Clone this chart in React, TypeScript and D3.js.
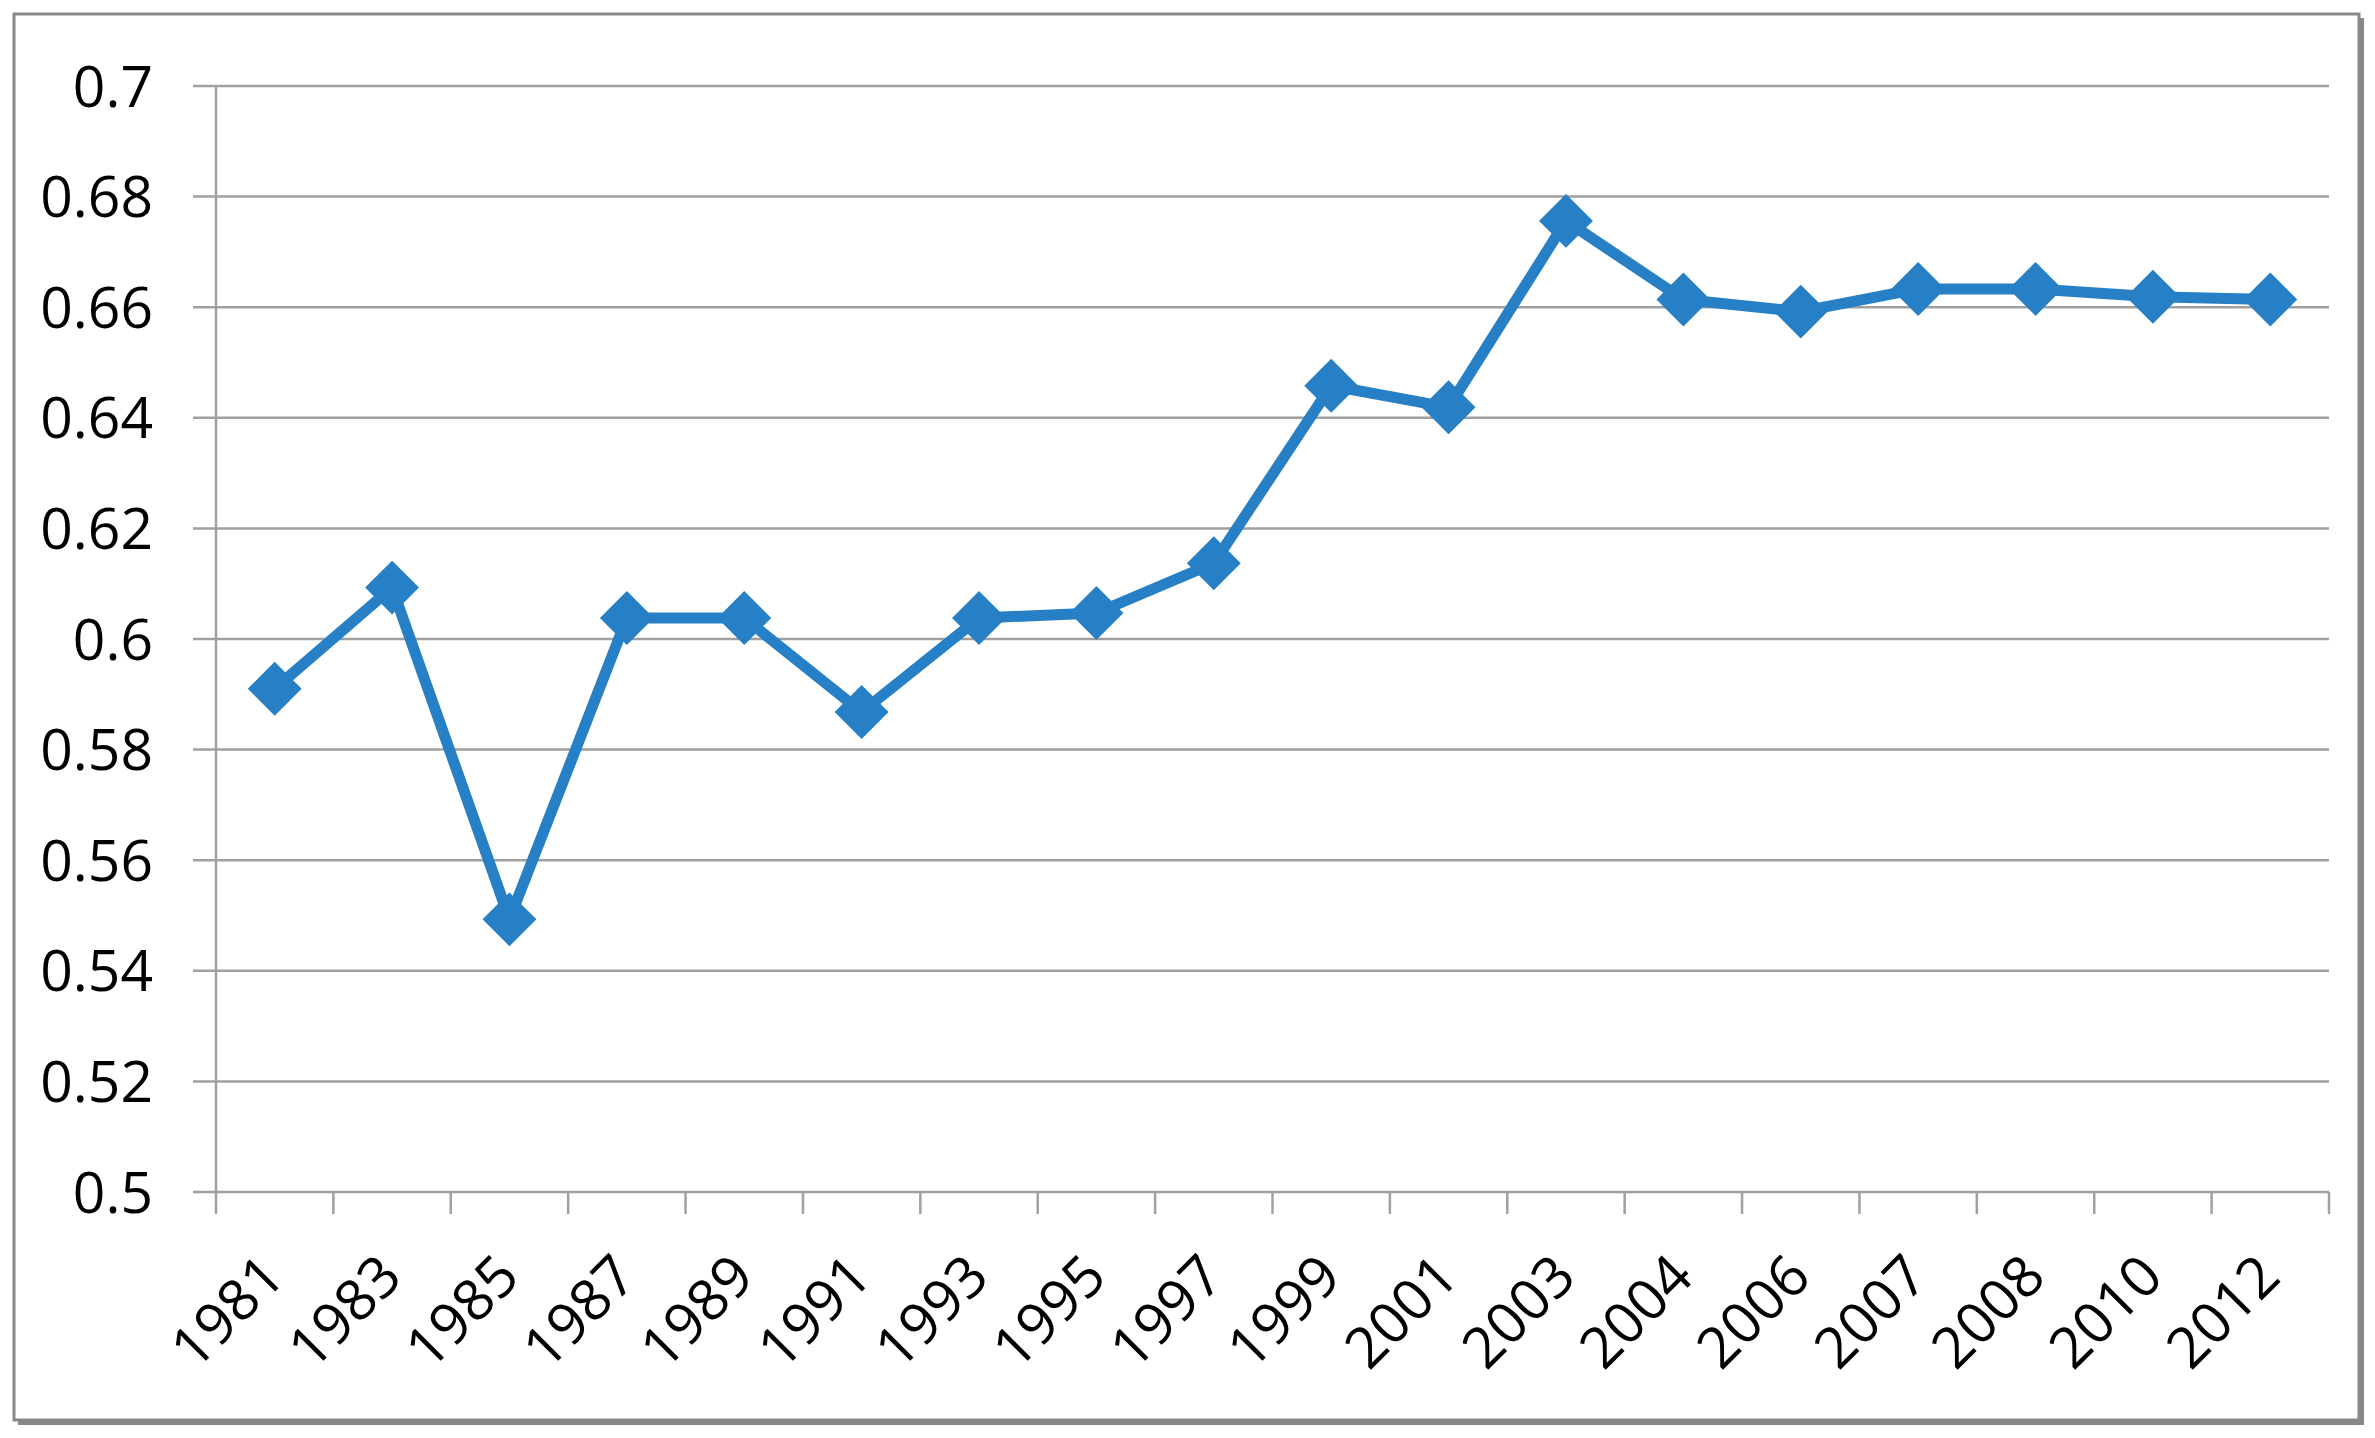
import React from "react";
import * as d3 from "d3";

const years = ["1981","1983","1985","1987","1989","1991","1993","1995","1997","1999","2001","2003","2004","2006","2007","2008","2010","2012"];
const values = [0.591,0.6093,0.5493,0.6038,0.6038,0.5868,0.6038,0.6047,0.6137,0.6458,0.6419,0.6756,0.6614,0.6592,0.6633,0.6633,0.6619,0.6614];
const yTicks = [0.5,0.52,0.54,0.56,0.58,0.6,0.62,0.64,0.66,0.68,0.7];

const W = 2375, H = 1438;
const left = 216, right = 2329, top = 86, bottom = 1192;
const BLUE = "#2780C5";
const GRID = "#A0A0A0";
const FONT = "'Open Sans', 'Noto Sans', sans-serif";

export default function App() {
  const x = d3.scaleBand<string>().domain(years).range([left, right]).paddingInner(0).paddingOuter(0);
  const y = d3.scaleLinear().domain([0.5, 0.7]).range([bottom, top]);
  const cx = (d: string) => (x(d) as number) + x.bandwidth() / 2;
  const line = d3.line<number>().x((_, i) => cx(years[i])).y((v) => y(v));
  const diamond = d3.symbol().type(d3.symbolDiamond2).size(1850);
  const boundaries = years.map((d) => x(d) as number).concat([right]);
  const fmt = (v: number) => String(+v.toFixed(2));

  return (
    <svg width={W} height={H} style={{ position: "absolute", left: 0, top: 0, background: "#fff" }}>
      {/* outer frame with shadow */}
      <rect x={18} y={18} width={2346} height={1407} fill="#888" />
      <rect x={14} y={14} width={2345} height={1406} fill="#fff" stroke="#888" strokeWidth={3} />
      {/* gridlines */}
      {yTicks.map((t) => (
        <line key={t} x1={left - 23} x2={right} y1={y(t)} y2={y(t)} stroke={GRID} strokeWidth={2.5} />
      ))}
      {/* y axis */}
      <line x1={left} x2={left} y1={top} y2={bottom} stroke={GRID} strokeWidth={2.5} />
      {/* x ticks */}
      {boundaries.map((b, i) => (
        <line key={i} x1={b} x2={b} y1={bottom} y2={bottom + 22} stroke={GRID} strokeWidth={2.5} />
      ))}
      {/* y labels */}
      {yTicks.map((t) => (
        <text key={t} x={153} y={y(t)} dy="0.36em" textAnchor="end" fontFamily={FONT} fontSize={57} fill="#000">
          {fmt(t)}
        </text>
      ))}
      {/* x labels */}
      {years.map((d) => (
        <text
          key={d}
          transform={`translate(${cx(d) - 2},${bottom + 73}) rotate(-45)`}
          textAnchor="end"
          dy="0.36em"
          fontFamily={FONT}
          fontSize={57}
          fill="#000"
        >
          {d}
        </text>
      ))}
      {/* series */}
      <path d={line(values) as string} fill="none" stroke={BLUE} strokeWidth={11} strokeLinejoin="round" />
      {values.map((v, i) => (
        <path key={i} d={diamond() as string} transform={`translate(${cx(years[i])},${y(v)})`} fill={BLUE} />
      ))}
    </svg>
  );
}
